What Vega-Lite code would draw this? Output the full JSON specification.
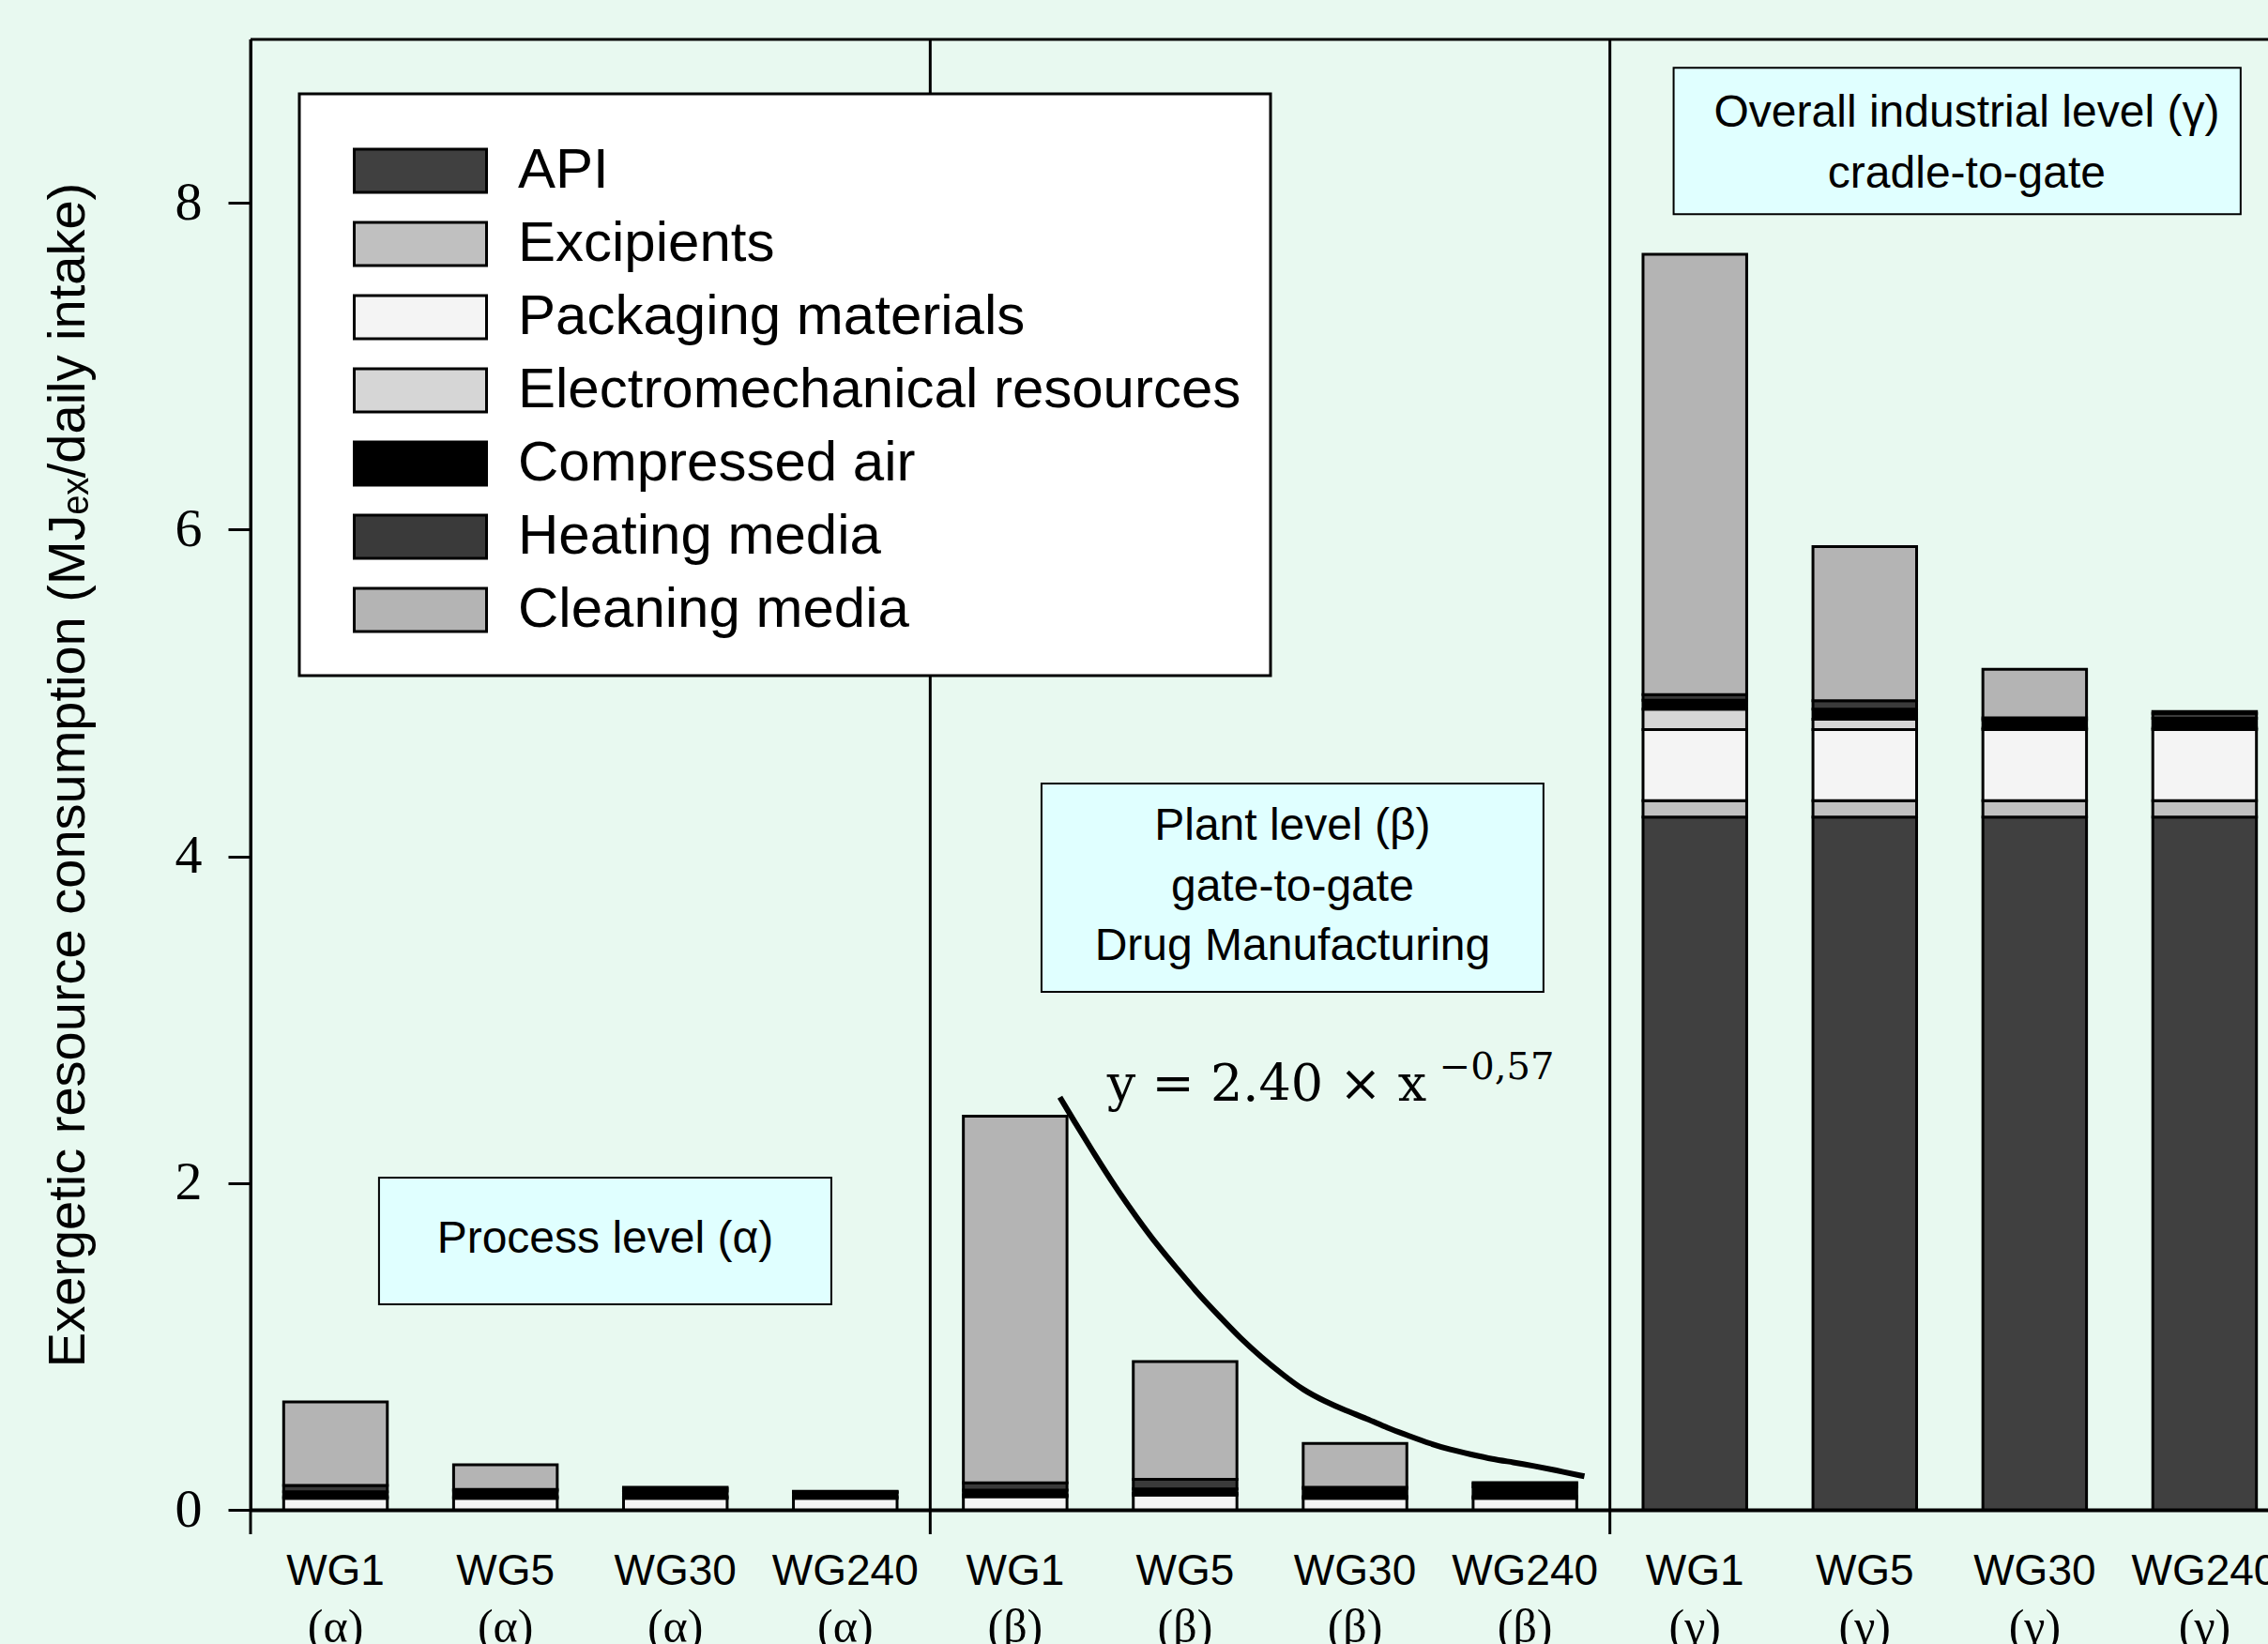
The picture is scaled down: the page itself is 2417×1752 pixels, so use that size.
{
  "$schema": "https://vega.github.io/schema/vega-lite/v6.json",
  "width": 2150,
  "height": 1567,
  "autosize": {"type": "none"},
  "padding": {"left": 267, "top": 42, "right": 0, "bottom": 143},
  "background": "#e8f9f0",
  "config": {
    "view": {"stroke": null},
    "legend": {"strokeWidth": 3}
  },
  "datasets": {
    "bars": [
      {"cat": "WG1 (α)", "comp": "Packaging materials", "ord": 3, "v": 0.07},
      {"cat": "WG1 (α)", "comp": "Electromechanical resources", "ord": 4, "v": 0.01},
      {"cat": "WG1 (α)", "comp": "Compressed air", "ord": 5, "v": 0.03},
      {"cat": "WG1 (α)", "comp": "Heating media", "ord": 6, "v": 0.04},
      {"cat": "WG1 (α)", "comp": "Cleaning media", "ord": 7, "v": 0.51},
      {"cat": "WG5 (α)", "comp": "Packaging materials", "ord": 3, "v": 0.07},
      {"cat": "WG5 (α)", "comp": "Electromechanical resources", "ord": 4, "v": 0.01},
      {"cat": "WG5 (α)", "comp": "Compressed air", "ord": 5, "v": 0.035},
      {"cat": "WG5 (α)", "comp": "Heating media", "ord": 6, "v": 0.01},
      {"cat": "WG5 (α)", "comp": "Cleaning media", "ord": 7, "v": 0.15},
      {"cat": "WG30 (α)", "comp": "Packaging materials", "ord": 3, "v": 0.07},
      {"cat": "WG30 (α)", "comp": "Electromechanical resources", "ord": 4, "v": 0.01},
      {"cat": "WG30 (α)", "comp": "Compressed air", "ord": 5, "v": 0.035},
      {"cat": "WG30 (α)", "comp": "Heating media", "ord": 6, "v": 0.015},
      {"cat": "WG30 (α)", "comp": "Cleaning media", "ord": 7, "v": 0.008},
      {"cat": "WG240 (α)", "comp": "Packaging materials", "ord": 3, "v": 0.07},
      {"cat": "WG240 (α)", "comp": "Electromechanical resources", "ord": 4, "v": 0.01},
      {"cat": "WG240 (α)", "comp": "Compressed air", "ord": 5, "v": 0.025},
      {"cat": "WG240 (α)", "comp": "Heating media", "ord": 6, "v": 0.005},
      {"cat": "WG240 (α)", "comp": "Cleaning media", "ord": 7, "v": 0.003},
      {"cat": "WG1 (β)", "comp": "Packaging materials", "ord": 3, "v": 0.08},
      {"cat": "WG1 (β)", "comp": "Electromechanical resources", "ord": 4, "v": 0.01},
      {"cat": "WG1 (β)", "comp": "Compressed air", "ord": 5, "v": 0.03},
      {"cat": "WG1 (β)", "comp": "Heating media", "ord": 6, "v": 0.045},
      {"cat": "WG1 (β)", "comp": "Cleaning media", "ord": 7, "v": 2.245},
      {"cat": "WG5 (β)", "comp": "Packaging materials", "ord": 3, "v": 0.09},
      {"cat": "WG5 (β)", "comp": "Electromechanical resources", "ord": 4, "v": 0.01},
      {"cat": "WG5 (β)", "comp": "Compressed air", "ord": 5, "v": 0.028},
      {"cat": "WG5 (β)", "comp": "Heating media", "ord": 6, "v": 0.058},
      {"cat": "WG5 (β)", "comp": "Cleaning media", "ord": 7, "v": 0.721},
      {"cat": "WG30 (β)", "comp": "Packaging materials", "ord": 3, "v": 0.07},
      {"cat": "WG30 (β)", "comp": "Electromechanical resources", "ord": 4, "v": 0.01},
      {"cat": "WG30 (β)", "comp": "Compressed air", "ord": 5, "v": 0.05},
      {"cat": "WG30 (β)", "comp": "Heating media", "ord": 6, "v": 0.008},
      {"cat": "WG30 (β)", "comp": "Cleaning media", "ord": 7, "v": 0.268},
      {"cat": "WG240 (β)", "comp": "Packaging materials", "ord": 3, "v": 0.07},
      {"cat": "WG240 (β)", "comp": "Electromechanical resources", "ord": 4, "v": 0.01},
      {"cat": "WG240 (β)", "comp": "Compressed air", "ord": 5, "v": 0.06},
      {"cat": "WG240 (β)", "comp": "Heating media", "ord": 6, "v": 0.02},
      {"cat": "WG240 (β)", "comp": "Cleaning media", "ord": 7, "v": 0.007},
      {"cat": "WG1 (γ)", "comp": "API", "ord": 1, "v": 4.24},
      {"cat": "WG1 (γ)", "comp": "Excipients", "ord": 2, "v": 0.10},
      {"cat": "WG1 (γ)", "comp": "Packaging materials", "ord": 3, "v": 0.435},
      {"cat": "WG1 (γ)", "comp": "Electromechanical resources", "ord": 4, "v": 0.125},
      {"cat": "WG1 (γ)", "comp": "Compressed air", "ord": 5, "v": 0.055},
      {"cat": "WG1 (γ)", "comp": "Heating media", "ord": 6, "v": 0.035},
      {"cat": "WG1 (γ)", "comp": "Cleaning media", "ord": 7, "v": 2.695},
      {"cat": "WG5 (γ)", "comp": "API", "ord": 1, "v": 4.24},
      {"cat": "WG5 (γ)", "comp": "Excipients", "ord": 2, "v": 0.10},
      {"cat": "WG5 (γ)", "comp": "Packaging materials", "ord": 3, "v": 0.435},
      {"cat": "WG5 (γ)", "comp": "Electromechanical resources", "ord": 4, "v": 0.064},
      {"cat": "WG5 (γ)", "comp": "Compressed air", "ord": 5, "v": 0.061},
      {"cat": "WG5 (γ)", "comp": "Heating media", "ord": 6, "v": 0.053},
      {"cat": "WG5 (γ)", "comp": "Cleaning media", "ord": 7, "v": 0.942},
      {"cat": "WG30 (γ)", "comp": "API", "ord": 1, "v": 4.24},
      {"cat": "WG30 (γ)", "comp": "Excipients", "ord": 2, "v": 0.10},
      {"cat": "WG30 (γ)", "comp": "Packaging materials", "ord": 3, "v": 0.435},
      {"cat": "WG30 (γ)", "comp": "Electromechanical resources", "ord": 4, "v": 0.01},
      {"cat": "WG30 (γ)", "comp": "Compressed air", "ord": 5, "v": 0.05},
      {"cat": "WG30 (γ)", "comp": "Heating media", "ord": 6, "v": 0.013},
      {"cat": "WG30 (γ)", "comp": "Cleaning media", "ord": 7, "v": 0.297},
      {"cat": "WG240 (γ)", "comp": "API", "ord": 1, "v": 4.24},
      {"cat": "WG240 (γ)", "comp": "Excipients", "ord": 2, "v": 0.10},
      {"cat": "WG240 (γ)", "comp": "Packaging materials", "ord": 3, "v": 0.435},
      {"cat": "WG240 (γ)", "comp": "Electromechanical resources", "ord": 4, "v": 0.01},
      {"cat": "WG240 (γ)", "comp": "Compressed air", "ord": 5, "v": 0.06},
      {"cat": "WG240 (γ)", "comp": "Heating media", "ord": 6, "v": 0.03},
      {"cat": "WG240 (γ)", "comp": "Cleaning media", "ord": 7, "v": 0.011}
    ],
    "dividers": [
      {"cat": "WG1 (α)"},
      {"cat": "WG1 (β)"},
      {"cat": "WG1 (γ)"}
    ],
    "greek": [
      {"cat": "WG1 (α)", "g": "(α)"},
      {"cat": "WG5 (α)", "g": "(α)"},
      {"cat": "WG30 (α)", "g": "(α)"},
      {"cat": "WG240 (α)", "g": "(α)"},
      {"cat": "WG1 (β)", "g": "(β)"},
      {"cat": "WG5 (β)", "g": "(β)"},
      {"cat": "WG30 (β)", "g": "(β)"},
      {"cat": "WG240 (β)", "g": "(β)"},
      {"cat": "WG1 (γ)", "g": "(γ)"},
      {"cat": "WG5 (γ)", "g": "(γ)"},
      {"cat": "WG30 (γ)", "g": "(γ)"},
      {"cat": "WG240 (γ)", "g": "(γ)"}
    ],
    "boxes": [
      {"x1": 0.756, "x2": 3.418, "y1": 2.033, "y2": 1.258},
      {"x1": 4.655, "x2": 7.609, "y1": 4.446, "y2": 3.171},
      {"x1": 8.375, "x2": 11.712, "y1": 8.826, "y2": 7.930}
    ],
    "boxtext": [
      {"u": 2.087, "v": 1.574, "t": "Process level (α)"},
      {"u": 6.132, "v": 4.101, "t": "Plant level (β)"},
      {"u": 6.132, "v": 3.728, "t": "gate-to-gate"},
      {"u": 6.132, "v": 3.366, "t": "Drug Manufacturing"},
      {"u": 10.10, "v": 8.466, "t": "Overall industrial level (γ)"},
      {"u": 10.10, "v": 8.093, "t": "cradle-to-gate"}
    ],
    "curve": [
      {"u": 4.763, "v": 2.526},
      {"u": 4.842, "v": 2.388},
      {"u": 4.966, "v": 2.177},
      {"u": 5.089, "v": 1.976},
      {"u": 5.212, "v": 1.794},
      {"u": 5.335, "v": 1.621},
      {"u": 5.458, "v": 1.469},
      {"u": 5.582, "v": 1.315},
      {"u": 5.705, "v": 1.181},
      {"u": 5.828, "v": 1.047},
      {"u": 5.951, "v": 0.932},
      {"u": 6.075, "v": 0.827},
      {"u": 6.198, "v": 0.731},
      {"u": 6.321, "v": 0.665},
      {"u": 6.445, "v": 0.607},
      {"u": 6.568, "v": 0.559},
      {"u": 6.691, "v": 0.501},
      {"u": 6.814, "v": 0.454},
      {"u": 6.938, "v": 0.406},
      {"u": 7.061, "v": 0.368},
      {"u": 7.184, "v": 0.339},
      {"u": 7.308, "v": 0.310},
      {"u": 7.431, "v": 0.291},
      {"u": 7.554, "v": 0.268},
      {"u": 7.677, "v": 0.243},
      {"u": 7.850, "v": 0.205}
    ],
    "eq": [
      {"u": 5.041, "v": 2.504, "t": "y = 2.40 × x", "s": 54},
      {"u": 6.996, "v": 2.636, "t": "−0,57", "s": 40}
    ]
  },
  "layer": [
    {
      "layer": [
        {
          "data": {"name": "bars"},
          "mark": {"type": "bar", "stroke": "black", "strokeWidth": 3, "width": {"band": 0.61}},
          "encoding": {
            "x": {
              "field": "cat", "type": "nominal", "sort": null,
              "scale": {
                "domain": ["WG1 (α)", "WG5 (α)", "WG30 (α)", "WG240 (α)", "WG1 (β)", "WG5 (β)", "WG30 (β)", "WG240 (β)", "WG1 (γ)", "WG5 (γ)", "WG30 (γ)", "WG240 (γ)"],
                "range": [0, 2173], "paddingInner": 0, "paddingOuter": 0
              },
              "axis": {
                "title": null, "ticks": false, "domainColor": "black", "domainWidth": 4,
                "labelFont": "Liberation Sans", "labelFontSize": 46, "labelColor": "black",
                "labelPadding": 43, "labelAngle": 0, "labelLimit": 0, "labelOverlap": false,
                "labelExpr": "split(datum.label, ' ')[0]"
              }
            },
            "y": {
              "field": "v", "type": "quantitative", "stack": "zero",
              "scale": {"domain": [0, 9], "nice": false, "zero": true},
              "axis": {
                "title": "Exergetic resource consumption (MJₑₓ/daily intake)",
                "titleFont": "Liberation Sans", "titleFontSize": 56, "titleFontWeight": "normal",
                "titleColor": "black", "titlePadding": 85,
                "values": [0, 2, 4, 6, 8], "format": "d", "grid": false,
                "tickSize": 24, "tickWidth": 3, "tickColor": "black",
                "domainColor": "black", "domainWidth": 3,
                "labelFont": "Liberation Serif", "labelFontSize": 58, "labelColor": "black",
                "labelPadding": 28
              }
            },
            "color": {
              "field": "comp", "type": "nominal",
              "scale": {
                "domain": ["API", "Excipients", "Packaging materials", "Electromechanical resources", "Compressed air", "Heating media", "Cleaning media"],
                "range": ["#404040", "#c0c0c0", "#f4f4f4", "#d6d6d6", "#000000", "#3a3a3a", "#b4b4b4"]
              },
              "legend": {
                "title": " ", "titleFontSize": 1, "titlePadding": 11,
                "orient": "none", "legendX": 52, "legendY": 58,
                "symbolType": "M-1,-0.326H1V0.326H-1Z", "symbolSize": 19881,
                "symbolStrokeColor": "black", "symbolStrokeWidth": 3, "symbolOpacity": 1,
                "symbolOffset": 26,
                "clipHeight": 78,
                "labelFont": "Liberation Sans", "labelFontSize": 60, "labelColor": "black",
                "labelOffset": 32, "labelLimit": 0, "rowPadding": 0, "padding": 31,
                "strokeColor": "black", "fillColor": "white"
              }
            },
            "order": {"field": "ord", "type": "quantitative", "sort": "ascending"}
          }
        },
        {
          "data": {"name": "dividers"},
          "mark": {"type": "rule", "color": "black", "strokeWidth": 3},
          "encoding": {
            "x": {"field": "cat", "type": "nominal", "bandPosition": 0},
            "y": {"datum": 9, "type": "quantitative"},
            "y2": {"datum": -0.15}
          }
        },
        {
          "data": {"values": [{}]},
          "mark": {"type": "rule", "color": "black", "strokeWidth": 3},
          "encoding": {
            "y": {"datum": 9, "type": "quantitative"}
          }
        },
        {
          "data": {"name": "greek"},
          "mark": {"type": "text", "font": "Liberation Serif", "fontSize": 50, "baseline": "alphabetic", "color": "black"},
          "encoding": {
            "x": {"field": "cat", "type": "nominal"},
            "y": {"datum": -0.81, "type": "quantitative"},
            "text": {"field": "g"}
          }
        }
      ]
    },
    {
      "layer": [
        {
          "data": {"name": "boxes"},
          "mark": {"type": "rect", "fill": "#e0ffff", "stroke": "black", "strokeWidth": 2},
          "encoding": {
            "x": {"field": "x1", "type": "quantitative", "scale": {"domain": [0, 12], "range": [0, 2173], "nice": false, "zero": false}, "axis": null},
            "x2": {"field": "x2"},
            "y": {"field": "y1", "type": "quantitative"},
            "y2": {"field": "y2"}
          }
        },
        {
          "data": {"name": "boxtext"},
          "mark": {"type": "text", "font": "Liberation Sans", "fontSize": 48, "align": "center", "baseline": "alphabetic", "color": "black"},
          "encoding": {
            "x": {"field": "u", "type": "quantitative", "axis": null},
            "y": {"field": "v", "type": "quantitative"},
            "text": {"field": "t"}
          }
        },
        {
          "data": {"name": "curve"},
          "mark": {"type": "line", "color": "black", "strokeWidth": 6, "interpolate": "basis"},
          "encoding": {
            "x": {"field": "u", "type": "quantitative", "axis": null},
            "y": {"field": "v", "type": "quantitative"}
          }
        },
        {
          "data": {"name": "eq"},
          "mark": {"type": "text", "font": "DejaVu Serif", "align": "left", "baseline": "alphabetic", "color": "black"},
          "encoding": {
            "x": {"field": "u", "type": "quantitative", "axis": null},
            "y": {"field": "v", "type": "quantitative"},
            "text": {"field": "t"},
            "size": {"field": "s", "type": "quantitative", "scale": null}
          }
        }
      ]
    }
  ],
  "resolve": {"scale": {"x": "independent"}, "axis": {"x": "independent"}}
}
